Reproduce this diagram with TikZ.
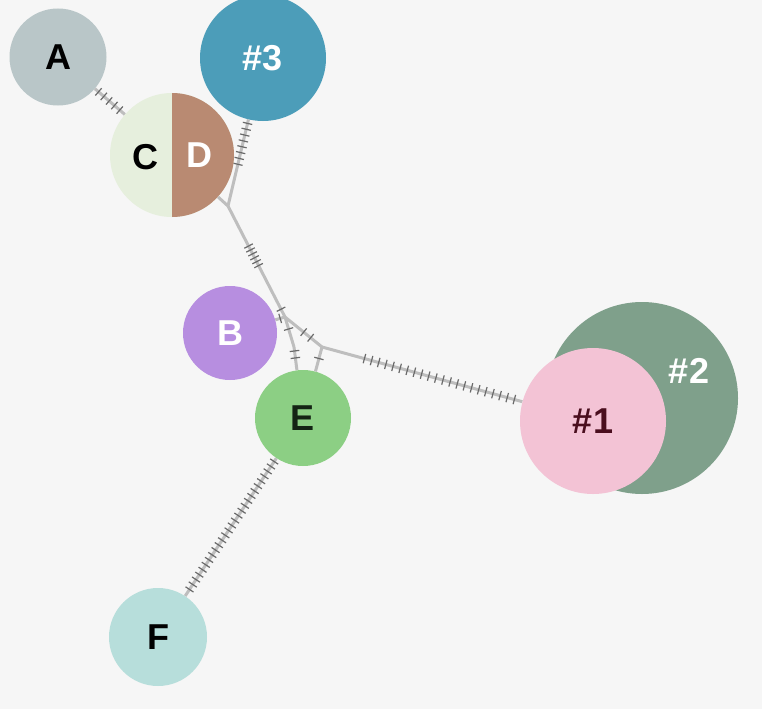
\documentclass[tikz,border=0pt]{standalone}
\usepackage{fontspec}
\setmainfont{Liberation Sans}
\usetikzlibrary{decorations.markings}
\pgfdeclarelayer{back}
\pgfdeclarelayer{lines}
\pgfsetlayers{back,lines,main}
\definecolor{bgc}{HTML}{F6F6F6}
\definecolor{linec}{HTML}{BEBEBE}
\definecolor{hatchc}{HTML}{6A6A6A}
\definecolor{cA}{HTML}{B9C6C8}
\definecolor{cThree}{HTML}{4C9DB9}
\definecolor{cC}{HTML}{E6EFDD}
\definecolor{cD}{HTML}{B98A72}
\definecolor{cB}{HTML}{B78EE0}
\definecolor{cE}{HTML}{8CCF84}
\definecolor{cEt}{HTML}{142414}
\definecolor{cF}{HTML}{B7DEDB}
\definecolor{cTwo}{HTML}{7FA08B}
\definecolor{cOne}{HTML}{F3C3D5}
\definecolor{cOnet}{HTML}{4A0E1E}
\tikzset{
  hatch/.style n args={3}{postaction={decorate,decoration={markings,
     mark=between positions #1 and #2 step #3 with {\draw[draw=hatchc,line width=1.2pt] (0pt,-4.8pt) -- (0pt,4.8pt);}}}},
  hatchone/.style={postaction={decorate,decoration={markings,
     mark=at position #1 with {\draw[draw=hatchc,line width=1.2pt] (0pt,-4.8pt) -- (0pt,4.8pt);}}}},
  edge/.style={draw=linec, line width=3pt},
  lbl/.style={font=\fontsize{36}{36}\selectfont\bfseries, inner sep=0pt},
  hap/.style={circle, inner sep=0pt, minimum size=#1, lbl}
}
\begin{document}
\begin{tikzpicture}[x=1pt,y=-1pt]
\useasboundingbox (0,0) rectangle (762,709);
\begin{pgfonlayer}{back}
\fill[bgc] (0,0) rectangle (762,709);
\end{pgfonlayer}
% haplotype circles
\node[hap=97pt, fill=cA, text=black] (A) at (58,57) {A};
\node[hap=126pt, fill=cThree, text=white] (N3) at (263,58) {\#3};
\node[hap=124pt] (CD) at (172,155) {};
\fill[cC] (CD.center) circle (62);
\begin{scope}
\clip (172,80) rectangle (240,230);
\fill[cD] (CD.center) circle (62);
\end{scope}
\node[lbl, text=black] (Ct) at (145,157) {C};
\node[lbl, text=white] (Dt) at (199,155) {D};
\node[hap=94pt, fill=cB, text=white] (B) at (230,333) {B};
\node[hap=96pt, fill=cE, text=cEt] (E) at (303,418) {E};
\node[hap=98pt, fill=cF, text=black] (F) at (158,637) {F};
\node[hap=192pt, fill=cTwo] (N2) at (642,398) {};
\node[hap=146pt, fill=cOne, text=cOnet] (N1) at (593,421) {\#1};
\node[lbl, text=white] (L2) at (689,371) {\#2};
% median vectors
\coordinate (J1) at (228,206);
\coordinate (J2) at (285,317);
\coordinate (Lv) at (294,347);
\coordinate (R) at (322,347);
\begin{pgfonlayer}{lines}
\draw[edge, hatch={0.12}{0.88}{7pt}] (A) -- (CD);
\draw[edge, hatch={4pt}{50pt}{6pt}] (N3) -- (J1);
\draw[edge] (CD) -- (J1);
\draw[edge, hatch={45pt}{67pt}{4.4pt}, hatchone={0.93}] (J1) -- (J2);
\draw[edge, hatchone={0.5}] (B) -- (J2);
\draw[edge, hatchone={0.4}] (J2) -- (Lv);
\draw[edge, hatch={4pt}{11pt}{7pt}] (Lv) -- (E);
\draw[edge, hatch={24pt}{35pt}{9pt}] (J2) -- (R);
\draw[edge, hatchone={0.47}] (R) -- (E);
\draw[edge, hatch={44pt}{205pt}{7.4pt}] (R) -- (N1);
\draw[edge, hatch={4pt}{161pt}{5.9pt}] (E) -- (F);
\end{pgfonlayer}
\end{tikzpicture}
\end{document}
